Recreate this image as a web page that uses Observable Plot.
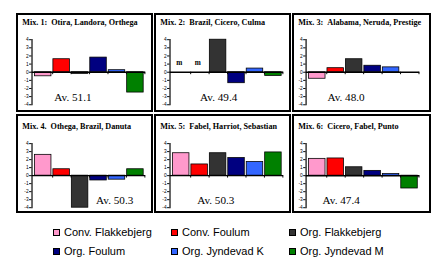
<!DOCTYPE html>
<html><head><meta charset="utf-8">
<script src="https://cdn.jsdelivr.net/npm/d3@7"></script>
<script src="https://cdn.jsdelivr.net/npm/@observablehq/plot@0.6"></script>
<style>
body{margin:0;background:#fff;}
#wrap{position:relative;width:434px;height:257px;overflow:hidden;font-family:"Liberation Sans",Arial,sans-serif;}
.panel{position:absolute;box-sizing:border-box;border:2px solid #000;}
.panel svg{position:absolute;left:-2px;top:-2px;overflow:visible;background:none;}
.leg{position:absolute;font-size:11px;color:#000;white-space:nowrap;line-height:12px;}
.sw{position:absolute;box-sizing:border-box;width:7px;height:7px;border:1px solid #000;}
</style>
</head><body>
<div id="wrap"></div>
<script>
const series = ["Conv. Flakkebjerg","Conv. Foulum","Org. Flakkebjerg","Org. Foulum","Org. Jyndevad K","Org. Jyndevad M"];
const colors = ["#FF99CC","#FF0000","#333333","#000080","#3366FF","#008000"];
const titles = [
  "Mix. 1:\u00a0\u00a0Otira, Landora, Orthega",
  "Mix. 2:\u00a0\u00a0Brazil, Cicero, Culma",
  "Mix. 3:\u00a0\u00a0Alabama, Neruda, Prestige",
  "Mix. 4.\u00a0\u00a0Othega, Brazil, Danuta",
  "Mix. 5:\u00a0\u00a0Fabel, Harriot, Sebastian",
  "Mix. 6:\u00a0\u00a0Cicero, Fabel, Punto"
];
const averages = [51.1, 49.4, 48.0, 50.3, 50.3, 47.4];
const mix1 = [-0.5, 1.6, -0.2, 1.8, 0.25, -2.5];
const mix2 = [null, null, 4.0, -1.35, 0.45, -0.45];
const mix3 = [-0.8, 0.5, 1.6, 0.8, 0.6, null];
const mix4 = [2.6, 0.8, -4.0, -0.6, -0.5, 0.8];
const mix5 = [2.8, 1.4, 2.8, 2.2, 1.7, 2.9];
const mix6 = [2.1, 2.15, 1.05, 0.6, 0.2, -1.6];
const missing2 = ["m", "m", null, null, null, null];
const yTicks = [-4, -3, -2, -1, 0, 1, 2, 3, 4];

const allValues = [mix1, mix2, mix3, mix4, mix5, mix6];
const allMissing = [[], missing2, [], [], [], []];

// layout (not data)
const colLeft = [16, 154, 292], colWidth = [137, 137, 139], colML = [16, 16, 14];
const rowTop = [13, 114], rowH = 99, rowMT = [27, 30], rowMB = [5, 3];
const avDx = [23, 31, 22, 66, 28, 17];
const bandSpan = 117, pIn = 0.11, pOut = 0.05;
const step = bandSpan / (series.length - pIn + 2 * pOut);
const serif = "Liberation Serif, Times New Roman, serif";

const wrap = document.getElementById("wrap");

allValues.forEach((vals, i) => {
  const r = Math.floor(i / 3), c = i % 3;
  const w = colWidth[c], ml = colML[c], mt = rowMT[r], mb = rowMB[r];
  const rows = series.map((s, j) => ({s, v: vals[j], m: allMissing[i][j] || null}));
  const plot = Plot.plot({
    width: w, height: rowH,
    marginLeft: ml, marginRight: w - ml - bandSpan, marginTop: mt, marginBottom: mb,
    style: {background: "none", overflow: "visible"},
    x: {domain: series, paddingInner: pIn, paddingOuter: pOut, axis: null},
    y: {domain: [-4, 4], axis: null},
    color: {domain: series, range: colors},
    marks: [
      Plot.axisY({ticks: yTicks, tickSize: 2.5, tickPadding: 1, fontSize: 5, tickFormat: d => String(d), label: null, fontFamily: "Liberation Sans, Arial, sans-serif"}),
      Plot.frame({anchor: "left", stroke: "#000", strokeWidth: 1.2}),
      Plot.barY(rows.filter(d => d.v != null), {x: "s", y: "v", fill: "s", stroke: "#000", strokeWidth: 0.8}),
      Plot.ruleY([0], {stroke: "#000", strokeWidth: 1.5}),
      Plot.ruleX(series, {x: d => d, dx: step / 2, y1: 0, y2: -0.3, stroke: "#000", strokeWidth: 1}),
      Plot.text(rows.filter(d => d.m), {x: "s", y: 1.2, dx: -2, text: "m", fontWeight: "bold", fontFamily: serif, fontSize: 7.5, fill: "#000"}),
      Plot.text([titles[i]], {frameAnchor: "top-left", dx: 6 - ml, dy: -18, textAnchor: "start", lineAnchor: "middle", fontWeight: "bold", fontFamily: serif, fontSize: 8.4, fill: "#000"}),
      Plot.text([averages[i]], {text: d => "Av. " + d.toFixed(1), frameAnchor: "bottom-left", dx: avDx[i], dy: -7.5, textAnchor: "start", lineAnchor: "middle", fontFamily: serif, fontSize: 11.5, fill: "#000"})
    ]
  });
  const div = document.createElement("div");
  div.className = "panel";
  div.style.left = colLeft[c] + "px";
  div.style.top = rowTop[r] + "px";
  div.style.width = w + "px";
  div.style.height = rowH + "px";
  div.appendChild(plot);
  wrap.appendChild(div);
});

// legend
const legX = [53, 171, 289], legY = [232, 251];
series.forEach((s, j) => {
  const r = Math.floor(j / 3), c = j % 3;
  const sw = document.createElement("div");
  sw.className = "sw";
  sw.style.left = legX[c] + "px";
  sw.style.top = (legY[r] - 3.5) + "px";
  sw.style.background = colors[j];
  wrap.appendChild(sw);
  const t = document.createElement("div");
  t.className = "leg";
  t.style.left = (legX[c] + 11) + "px";
  t.style.top = (legY[r] - 6) + "px";
  t.textContent = s;
  wrap.appendChild(t);
});
</script>
</body></html>
